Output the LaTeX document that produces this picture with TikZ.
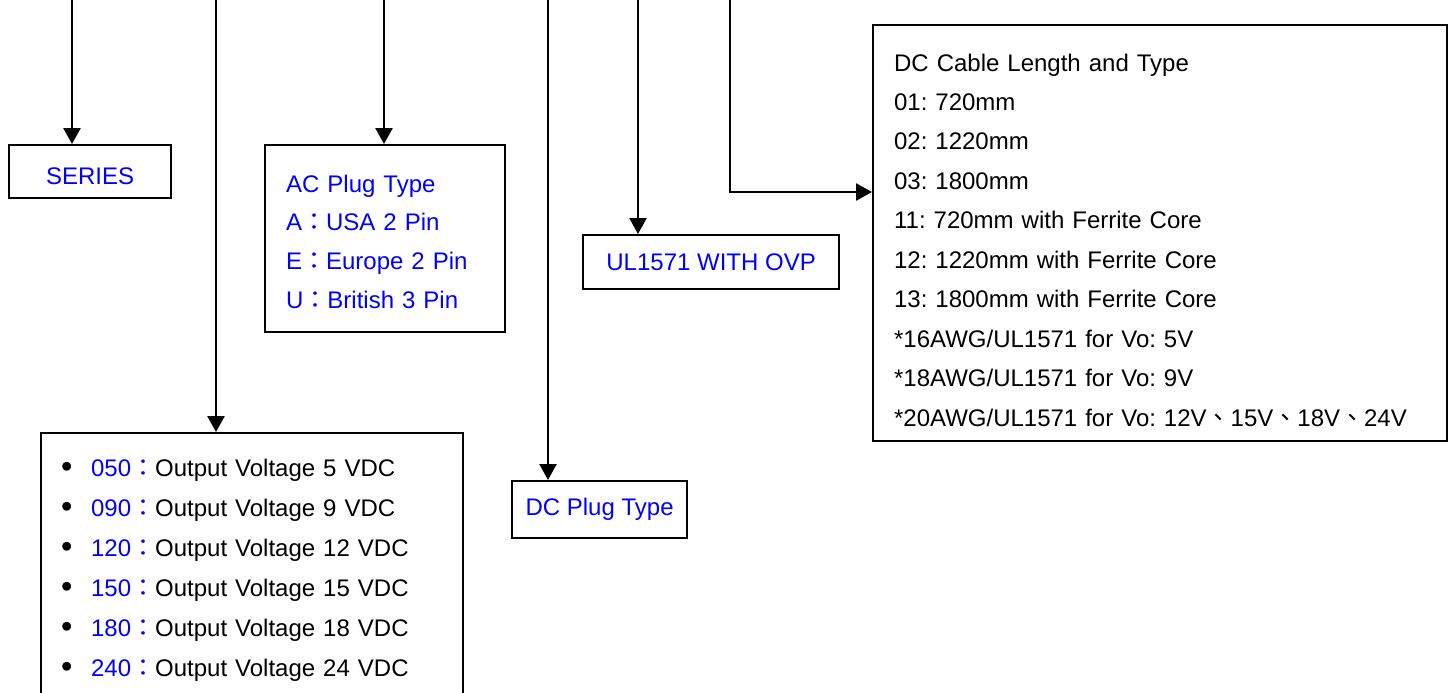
\documentclass[tikz,border=0pt]{standalone}
\usepackage{fontspec}
\usepackage{graphicx}
\setmainfont{Liberation Sans}
\newfontfamily\cjk{Noto Sans CJK TC}
\usetikzlibrary{arrows.meta}
\definecolor{lbl}{RGB}{0,0,255}
\newcommand{\fc}{{\cjk ：}}
\newcommand{\dun}{{\cjk 、}}
\newcommand{\bul}{\makebox[15pt][l]{\raisebox{-0.5pt}{\scalebox{1.35}{\textbullet}}}}
\frenchspacing

\begin{document}
\begin{tikzpicture}[
    x=0.5pt, y=-0.5pt,
    box/.style={draw, line width=1.1pt, anchor=north west, inner sep=0pt,
      font=\fontsize{12pt}{14pt}\selectfont},
    lst/.style={box, align=left, inner xsep=10.5pt, inner ysep=0pt},
    arr/.style={-{Triangle[length=8pt, width=8.5pt]}, line width=1.2pt}
  ]
    \useasboundingbox (0,0) rectangle (1453,692);
    \clip (0,0) rectangle (1453,692);

    \node[box, text=lbl, minimum width=81pt, minimum height=26.5pt,
      text height=12.5pt, text depth=0pt] (series) at (8,144) {SERIES};
    \node[lst, text=lbl, text width=99pt, text height=23.5pt, text depth=70pt,
      font=\fontsize{12pt}{19.4pt}\selectfont] (acplug) at (264,144)
      {AC Plug Type\\ A\fc USA 2 Pin\\ E\fc Europe 2 Pin\\ U\fc British 3 Pin};
    \node[box, text=lbl, minimum width=128pt, minimum height=27pt] (ulbox) at (582,234) {UL1571 WITH OVP};
    \node[box, text=lbl, minimum width=87.5pt, minimum height=28.5pt] (dcplug) at (511,480) {DC Plug Type};
    \node[lst, inner xsep=10pt, text width=191pt, text height=21.5pt, text depth=122.5pt,
      font=\fontsize{12pt}{20pt}\selectfont] (volt) at (40,432)
      {\bul\textcolor{lbl}{050\fc}Output Voltage 5 VDC\\
       \bul\textcolor{lbl}{090\fc}Output Voltage 9 VDC\\
       \bul\textcolor{lbl}{120\fc}Output Voltage 12 VDC\\
       \bul\textcolor{lbl}{150\fc}Output Voltage 15 VDC\\
       \bul\textcolor{lbl}{180\fc}Output Voltage 18 VDC\\
       \bul\textcolor{lbl}{240\fc}Output Voltage 24 VDC};
    \node[lst, text width=266pt, text height=23pt, text depth=185pt,
      font=\fontsize{12pt}{19.72pt}\selectfont] (cable) at (872,24)
      {DC Cable Length and Type\\
       01: 720mm\\
       02: 1220mm\\
       03: 1800mm\\
       11: 720mm with Ferrite Core\\
       12: 1220mm with Ferrite Core\\
       13: 1800mm with Ferrite Core\\
       {*}16AWG/UL1571 for Vo: 5V\\
       {*}18AWG/UL1571 for Vo: 9V\\
       {*}20AWG/UL1571 for Vo: 12V\dun 15V\dun 18V\dun 24V};

    % feed lines from the code above
    \coordinate (tSeries) at (72,0);
    \coordinate (tVolt) at (216,0);
    \coordinate (tAc) at (384,0);
    \coordinate (tDc) at (548,0);
    \coordinate (tUl) at (638,0);
    \coordinate (tCable) at (730,0);
    \coordinate (kink) at (730,192);

    \draw[arr] (tSeries) -- (tSeries |- series.north);
    \draw[arr] (tVolt) -- (tVolt |- volt.north);
    \draw[arr] (tAc) -- (tAc |- acplug.north);
    \draw[arr] (tDc) -- (tDc |- dcplug.north);
    \draw[arr] (tUl) -- (tUl |- ulbox.north);
    \draw[arr] (tCable) -- (kink) -- (kink -| cable.west);
\end{tikzpicture}
\end{document}
